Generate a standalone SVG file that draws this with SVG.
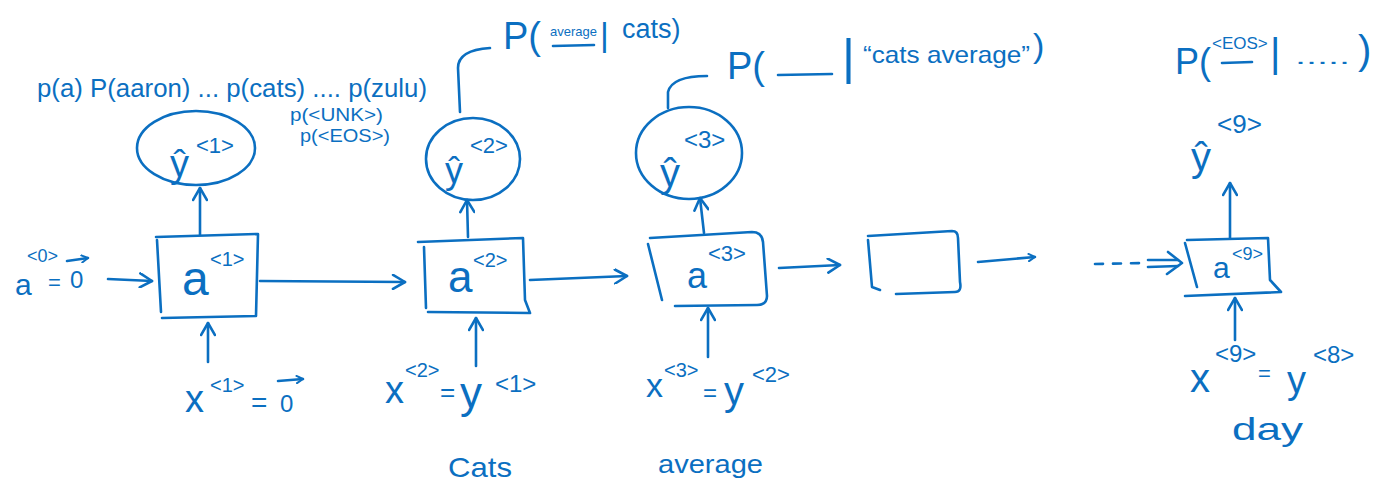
<svg xmlns="http://www.w3.org/2000/svg" width="1381" height="492" viewBox="0 0 1381 492">
<style>
.s{fill:none;stroke:#0b6fc1;stroke-width:2.6;stroke-linecap:round;stroke-linejoin:round}
.t{fill:#0b6fc1;font-family:"Liberation Sans","DejaVu Sans",Arial,sans-serif}
.d{stroke-dasharray:8 10}
</style>
<defs>
<marker id="ah" viewBox="0 0 16 16" refX="14" refY="8" markerWidth="16" markerHeight="16" markerUnits="userSpaceOnUse" orient="auto">
<path d="M2,1 L14,8 L2,15" fill="none" stroke="#0b6fc1" stroke-width="2.6" stroke-linecap="round" stroke-linejoin="round"/>
</marker>
<marker id="sh" viewBox="0 0 10 10" refX="9" refY="5" markerWidth="9" markerHeight="9" markerUnits="userSpaceOnUse" orient="auto">
<path d="M2,1 L9,5 L2,9" fill="none" stroke="#0b6fc1" stroke-width="2.2" stroke-linecap="round" stroke-linejoin="round"/>
</marker>
</defs>
<rect width="1381" height="492" fill="#ffffff"/>

<g id="connectors">
<path class="s" d="M108,279 L152,281" marker-end="url(#ah)"/>
<path class="s" d="M200,235 L200,188" marker-end="url(#ah)"/>
<path class="s" d="M208,362 L208,323" marker-end="url(#ah)"/>
<path class="s" d="M260,281 L405,282" marker-end="url(#ah)"/>
<path class="s" d="M468,237 L467,200" marker-end="url(#ah)"/>
<path class="s" d="M476,366 L476,318" marker-end="url(#ah)"/>
<path class="s" d="M530,280 L627,276" marker-end="url(#ah)"/>
<path class="s" d="M704,233 L700,198" marker-end="url(#ah)"/>
<path class="s" d="M708,357 L708,308" marker-end="url(#ah)"/>
<path class="s" d="M779,268 L840,265" marker-end="url(#ah)"/>
<path class="s" d="M978,262 L1035,257" marker-end="url(#sh)"/>
<path class="s d" d="M1095,264 L1146,263"/>
<path class="s" d="M1148,260 L1178,260 M1148,267 L1178,266"/>
<path class="s" d="M1168,252 L1182,263 L1167,274"/>
<path class="s" d="M1230,238 L1230,183" marker-end="url(#ah)"/>
<path class="s" d="M1235,340 L1235,298" marker-end="url(#ah)"/>
<path class="s" d="M460,112 L458,68 Q458,50 490,48"/>
<path class="s" d="M668,108 L668,92 Q672,76 707,76"/>
</g>

<g id="labels-top">
<text class="t" x="37" y="97" font-size="26" textLength="390" lengthAdjust="spacingAndGlyphs">p(a) P(aaron) ... p(cats) .... p(zulu)</text>
<text class="t" x="290" y="121" font-size="19" textLength="93" lengthAdjust="spacingAndGlyphs">p(&lt;UNK&gt;)</text>
<text class="t" x="300" y="142" font-size="19" textLength="90" lengthAdjust="spacingAndGlyphs">p(&lt;EOS&gt;)</text>
</g>

<g id="prob-2">
<text class="t"><tspan x="503" y="49" font-size="38">P(</tspan><tspan x="550" y="36" font-size="13">average</tspan><tspan x="600" y="46" font-size="34">|</tspan><tspan x="622" y="38" font-size="27">cats)</tspan></text>
<path class="s" d="M553,46 L594,45"/>
</g>

<g id="prob-3">
<text class="t"><tspan x="727" y="79" font-size="38">P(</tspan><tspan x="842" y="74" font-size="50">|</tspan><tspan x="863" y="63" font-size="24" textLength="167" lengthAdjust="spacingAndGlyphs">“cats average”</tspan><tspan x="1033" y="57" font-size="34">)</tspan></text>
<path class="s" d="M778,75 L832,74"/>
</g>

<g id="prob-9">
<text class="t"><tspan x="1175" y="74" font-size="36">P(</tspan><tspan x="1212" y="49" font-size="17">&lt;EOS&gt;</tspan><tspan x="1270" y="67" font-size="40">|</tspan><tspan x="1295" y="64" font-size="20" textLength="55" lengthAdjust="spacingAndGlyphs">.....</tspan><tspan x="1358" y="64" font-size="40">)</tspan></text>
<path class="s" d="M1222,63 L1252,62"/>
</g>

<g id="init-a0">
<text class="t"><tspan x="15" y="295" font-size="30">a</tspan><tspan x="27" y="262" font-size="18">&lt;0&gt;</tspan><tspan x="48" y="290" font-size="22">=</tspan><tspan x="70" y="288" font-size="24">0</tspan></text>
<path class="s" d="M67,261 L88,258" marker-end="url(#sh)"/>
</g>

<g id="node-a1">
<path class="s" d="M156,237 L258,234 L256,316 L162,318 M157,240 L161,312"/>
<text class="t"><tspan x="182" y="295" font-size="48">a</tspan><tspan x="210" y="266" font-size="20">&lt;1&gt;</tspan></text>
</g>
<g id="node-y1">
<ellipse class="s" cx="196" cy="148" rx="59" ry="37"/>
<text class="t"><tspan x="170" y="177" font-size="38">ŷ</tspan><tspan x="196" y="153" font-size="22">&lt;1&gt;</tspan></text>
</g>
<g id="input-x1">
<text class="t"><tspan x="185" y="412" font-size="38">x</tspan><tspan x="210" y="392" font-size="20">&lt;1&gt;</tspan><tspan x="251" y="412" font-size="28">=</tspan><tspan x="280" y="412" font-size="24">0</tspan></text>
<path class="s" d="M278,381 L303,379" marker-end="url(#sh)"/>
</g>

<g id="node-a2">
<path class="s" d="M418,242 L523,238 L525,300 L530,313 L428,312 M424,247 L426,308"/>
<text class="t"><tspan x="448" y="292" font-size="44">a</tspan><tspan x="473" y="267" font-size="20">&lt;2&gt;</tspan></text>
</g>
<g id="node-y2">
<ellipse class="s" cx="473" cy="159" rx="47" ry="41"/>
<text class="t"><tspan x="445" y="183" font-size="36">ŷ</tspan><tspan x="470" y="153" font-size="22">&lt;2&gt;</tspan></text>
</g>
<g id="input-x2">
<text class="t"><tspan x="385" y="403" font-size="38">x</tspan><tspan x="405" y="377" font-size="20">&lt;2&gt;</tspan><tspan x="440" y="401" font-size="26">=</tspan><tspan x="460" y="408" font-size="44">y</tspan><tspan x="495" y="392" font-size="24">&lt;1&gt;</tspan></text>
<text class="t" x="448" y="477" font-size="28" textLength="64" lengthAdjust="spacingAndGlyphs">Cats</text>
</g>

<g id="node-a3">
<path class="s" d="M650,238 L752,232 Q762,232 763,242 L767,296 Q767,305 757,305 L675,306 M648,244 L662,300"/>
<text class="t"><tspan x="687" y="288" font-size="36">a</tspan><tspan x="708" y="261" font-size="22">&lt;3&gt;</tspan></text>
</g>
<g id="node-y3">
<ellipse class="s" cx="689" cy="153" rx="53" ry="46"/>
<text class="t"><tspan x="660" y="187" font-size="40">ŷ</tspan><tspan x="684" y="148" font-size="24">&lt;3&gt;</tspan></text>
</g>
<g id="input-x3">
<text class="t"><tspan x="646" y="397" font-size="34">x</tspan><tspan x="664" y="377" font-size="20">&lt;3&gt;</tspan><tspan x="703" y="401" font-size="24">=</tspan><tspan x="724" y="405" font-size="40">y</tspan><tspan x="752" y="382" font-size="22">&lt;2&gt;</tspan></text>
<text class="t" x="658" y="473" font-size="26" textLength="105" lengthAdjust="spacingAndGlyphs">average</text>
</g>

<g id="node-blank">
<path class="s" d="M868,236 L952,231 Q958,231 958,238 L960,282 Q962,292 955,292 L896,294 M868,240 L872,287 L880,290"/>
</g>

<g id="node-a9">
<path class="s" d="M1187,240 L1268,238 L1270,280 L1281,292 L1185,296 M1185,243 L1197,287"/>
<text class="t"><tspan x="1213" y="278" font-size="30">a</tspan><tspan x="1232" y="260" font-size="18">&lt;9&gt;</tspan></text>
</g>
<g id="node-y9">
<text class="t"><tspan x="1191" y="171" font-size="40">ŷ</tspan><tspan x="1217" y="133" font-size="26">&lt;9&gt;</tspan></text>
</g>
<g id="input-x9">
<text class="t"><tspan x="1190" y="392" font-size="40">x</tspan><tspan x="1215" y="362" font-size="24">&lt;9&gt;</tspan><tspan x="1258" y="381" font-size="22">=</tspan><tspan x="1287" y="393" font-size="38">y</tspan><tspan x="1313" y="363" font-size="24">&lt;8&gt;</tspan></text>
<text class="t" x="1232" y="440" font-size="32" textLength="71" lengthAdjust="spacingAndGlyphs">day</text>
</g>
</svg>
